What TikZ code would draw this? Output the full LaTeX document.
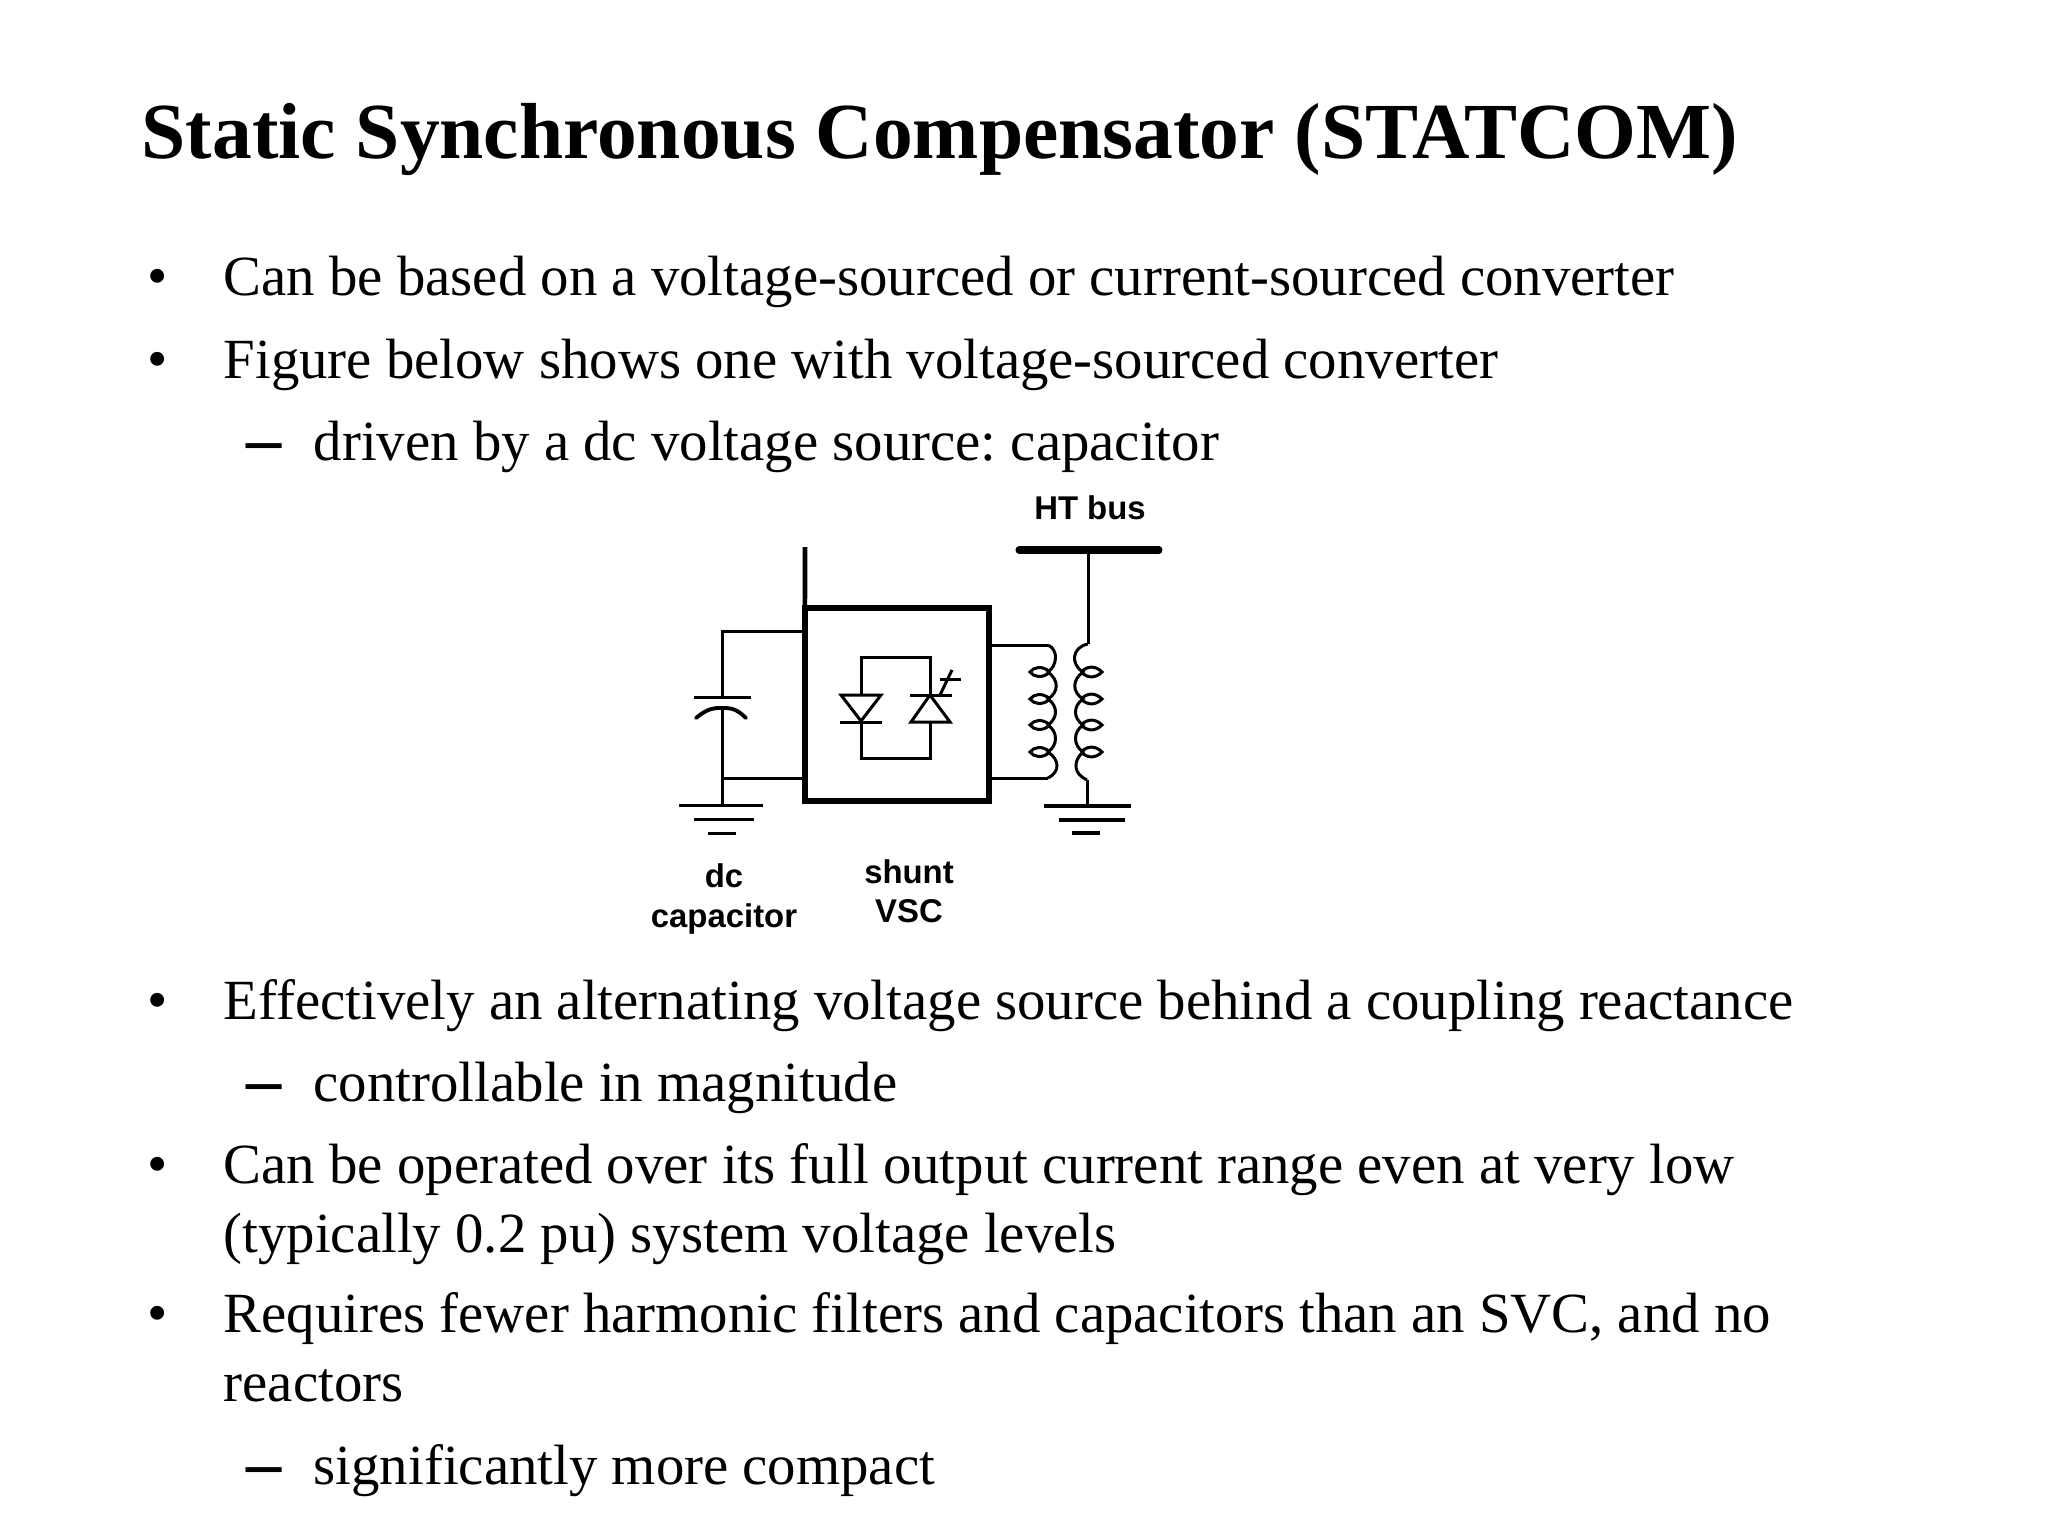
\documentclass[tikz,border=0pt]{standalone}
\usepackage{fontspec}
\setmainfont{Liberation Serif}
\newfontfamily\labelfont{Liberation Sans}
\frenchspacing

\tikzset{
  wire/.style={line width=0.85pt},
  heavywire/.style={line width=1.05pt},
  vscbox/.style={draw,line width=1.5pt,minimum width=1.84cm,minimum height=1.93cm,inner sep=0pt,outer sep=0pt},
  titletext/.style={anchor=base west,inner sep=0pt,font=\fontsize{22.6}{27}\selectfont\bfseries},
  bodytext/.style={anchor=base west,inner sep=0pt,font=\fontsize{16.15}{19}\selectfont},
  marktext/.style={anchor=base west,inner sep=0pt,font=\fontsize{16.5}{20}\selectfont},
  dashtext/.style={anchor=base west,inner sep=0pt,font=\fontsize{20}{24}\selectfont\bfseries},
  partlabel/.style={anchor=base,inner sep=0pt,align=center,font=\labelfont\fontsize{9.35}{11}\selectfont\bfseries},
}

\begin{document}
\begin{tikzpicture}[x=0.01cm,y=-0.01cm]
 \useasboundingbox (0,0) rectangle (2048,1536);

 % Slide text
 \node[titletext] (title) at (141,158) {Static Synchronous Compensator (STATCOM)};

 \node[marktext] (b1) at (147,295) {•};
 \node[bodytext] (t1) at (223,295) {Can be based on a voltage-sourced or current-sourced converter};
 \node[marktext] (b2) at (147,378) {•};
 \node[bodytext] (t2) at (223,378) {Figure below shows one with voltage-sourced converter};
 \node[dashtext] (d3) at (246,462) {–};
 \node[bodytext] (t3) at (313,460) {driven by a dc voltage source: capacitor};
 \node[marktext] (b4) at (147,1019) {•};
 \node[bodytext] (t4) at (223,1019) {Effectively an alternating voltage source behind a coupling reactance};
 \node[dashtext] (d5) at (246,1103) {–};
 \node[bodytext] (t5) at (313,1101) {controllable in magnitude};
 \node[marktext] (b6) at (147,1183) {•};
 \node[bodytext] (t6) at (223,1183) {Can be operated over its full output current range even at very low};
 \node[bodytext] (t6b) at (223,1252) {(typically 0.2 pu) system voltage levels};
 \node[marktext] (b7) at (147,1332) {•};
 \node[bodytext] (t7) at (223,1332) {Requires fewer harmonic filters and capacitors than an SVC, and no};
 \node[bodytext] (t7b) at (223,1401) {reactors};
 \node[dashtext] (d8) at (246,1486) {–};
 \node[bodytext] (t8) at (313,1484) {significantly more compact};

 % Labels of the figure
 \node[partlabel] (htlabel) at (1090,519) {HT bus};
 \node[partlabel] (dclabel) at (724,887) {dc};
 \node[partlabel] (caplabel) at (724,927) {capacitor};
 \node[partlabel] (shuntlabel) at (909,883) {shunt};
 \node[partlabel] (vsclabel) at (909,922) {VSC};

 % Converter box and dc stem
 \node[vscbox] (vsc) at (897,704.5) {};
 \coordinate (stemtop) at (805,547);
 \draw[line width=1.3pt] (stemtop) -- (vsc.north west);

 % HT bus
 \coordinate (busleft) at (1019,550);
 \coordinate (busright) at (1159,550);
 \coordinate (bustap) at (1088,550);
 \draw[line width=2pt,line cap=round] (busleft) -- (busright);

 % dc capacitor
 \coordinate (capup) at (722,631);
 \coordinate (capplate) at (722,697);
 \coordinate (capbow) at (722,708);
 \coordinate (captap) at (722,778);
 \coordinate (capgnd) at (722,805);
 \draw[wire] (vsc.west |- capup) -- (capup) -- (capplate);
 \draw[wire] (694,697) -- (751,697);
 \draw[line width=1.1pt,line cap=round] (696,718) .. controls (708,708) and (714,708) .. (capbow) .. controls (730,708) and (736,708) .. (746,718);
 \draw[wire] (capbow) -- (capgnd);
 \draw[wire] (captap) -- (vsc.west |- captap);
 \draw[wire] (679,805) -- (763,805);
 \draw[wire] (694,819) -- (754,819);
 \draw[wire] (708,833) -- (736,833);

 % Diode and thyristor inside the box
 \coordinate (loopnw) at (861,657);
 \coordinate (loopne) at (930,657);
 \coordinate (loopsw) at (861,758);
 \coordinate (loopse) at (930,758);
 \draw[wire] (861,695) -- (loopnw) -- (loopne) -- (930,695);
 \draw[wire] (861,721) -- (loopsw) -- (loopse) -- (930,722);
 \draw[wire,line join=miter] (841,695) -- (881,695) -- (861,721) -- cycle;
 \draw[wire] (840,722) -- (882,722);
 \draw[wire,line join=miter] (911,722) -- (950,722) -- (930,695) -- cycle;
 \draw[wire] (910,695) -- (952,695);
 \draw[wire] (940,695) -- (952,670);
 \draw[wire] (940,679) -- (961,679);

 % Transformer, primary winding
 \coordinate (priup) at (1048,645);
 \coordinate (pridown) at (1048,778);
 \draw[wire] (vsc.east |- priup) -- (priup);
 \draw[wire] (vsc.east |- pridown) -- (pridown);
 \draw[wire] (priup) .. controls (1059,650) and (1057,666) .. (1048,672)
   .. controls (1059,680) and (1059,692) .. (1048,699)
   .. controls (1058,706) and (1058,718) .. (1048,725)
   .. controls (1058,732) and (1058,745) .. (1048,752)
   .. controls (1060,760) and (1060,772) .. (pridown);
 \foreach \y in {672,699,725,752}
   \draw[wire] (1050,\y) .. controls (1042,\y-7) and (1034,\y-5) .. (1030,\y)
     .. controls (1034,\y+5) and (1042,\y+7) .. (1050,\y);

 % Transformer, secondary winding
 \coordinate (secup) at (1088,644);
 \coordinate (secdown) at (1087,780);
 \coordinate (secgnd) at (1087,806);
 \draw[wire] (bustap) -- (secup);
 \draw[wire] (secdown) -- (secgnd);
 \draw[wire] (secup) .. controls (1072,647) and (1070,664) .. (1083,672)
   .. controls (1072,680) and (1072,692) .. (1083,699)
   .. controls (1073,706) and (1073,718) .. (1083,725)
   .. controls (1073,732) and (1073,745) .. (1083,752)
   .. controls (1072,762) and (1074,774) .. (secdown);
 \foreach \y in {672,699,725,752}
   \draw[wire] (1081,\y) .. controls (1088,\y-7) and (1096,\y-6) .. (1102,\y)
     .. controls (1096,\y+6) and (1088,\y+7) .. (1081,\y);
 \draw[heavywire] (1044,806) -- (1131,806);
 \draw[heavywire] (1059,820) -- (1125,820);
 \draw[heavywire] (1072,833) -- (1100,833);

\end{tikzpicture}
\end{document}
